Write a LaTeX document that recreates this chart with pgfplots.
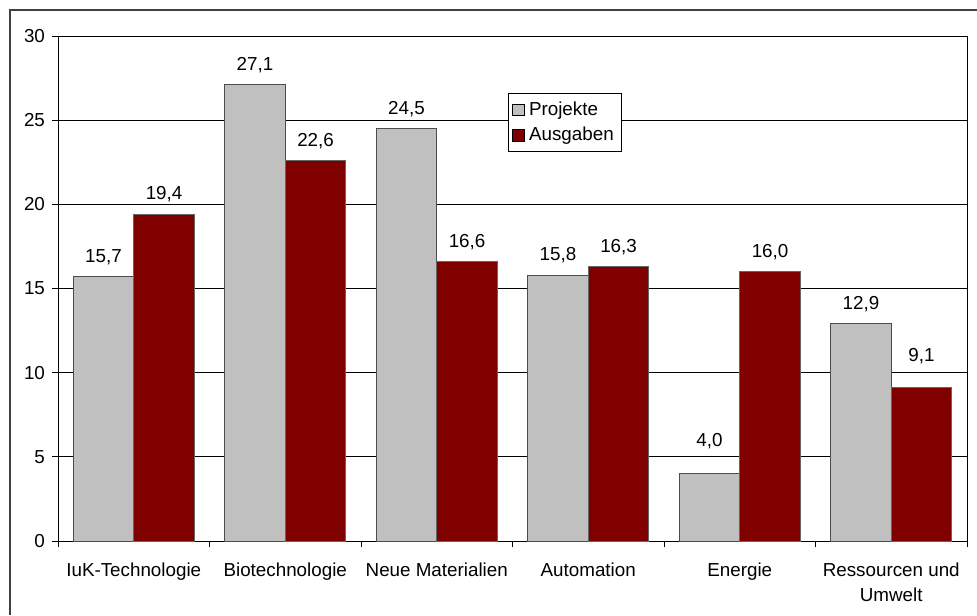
\documentclass[border=0pt]{standalone}
\usepackage{fontspec}
\setmainfont{Liberation Sans}
\usepackage{pgfplots}
\usepackage{pgfplotstable}
\pgfplotsset{compat=1.18}
\definecolor{proj}{RGB}{192,192,192}
\definecolor{ausg}{RGB}{128,0,0}
\pgfplotstableread{
x y off
0 15.7 0
1 27.1 0
2 24.5 0
3 15.8 0
4 4.0 6.5
5 12.9 0
}\projekte
\pgfplotstableread{
x y off
0 19.4 0
1 22.6 0
2 16.6 0
3 16.3 0
4 16.0 0
5 9.1 6
}\ausgaben
\begin{document}
\begin{tikzpicture}
\useasboundingbox (0,0) rectangle (488.5pt,-307.5pt);
\draw[black!75, line width=0.6pt] (5pt,-307.5pt) -- (5pt,-5pt) -- (488.5pt,-5pt);
\begin{axis}[
  at={(29pt,-270.5pt)}, anchor=south west,
  scale only axis, width=454.5pt, height=252.5pt,
  xmin=-0.5, xmax=5.5, ymin=0, ymax=30,
  ybar, bar width=0.4,
  xtick={0,...,5},
  xticklabels={IuK-Technologie,Biotechnologie,Neue Materialien,Automation,Energie,{Ressourcen und\\Umwelt}},
  xticklabel style={align=center, font=\fontsize{9.4}{12.5}\selectfont, yshift=-4.5pt},
  minor xtick={-0.5,0.5,...,5.5},
  major x tick style={draw=none},
  xtick pos=bottom, ytick pos=left,
  ytick={0,5,...,30},
  yticklabel style={font=\fontsize{9.4}{11}\selectfont},
  /pgf/number format/assume math mode=true,
  tick align=outside,
  major tick length=3pt, minor tick length=3pt,
  tick style={black, line width=0.5pt},
  ymajorgrids,
  grid style={black, line width=0.5pt},
  axis line style={black, line width=0.5pt},
  visualization depends on={\thisrow{off} \as \myoff},
  nodes near coords={\pgfmathprintnumber[fixed,fixed zerofill,precision=1,use comma,assume math mode=true]{\pgfplotspointmeta}},
  every node near coord/.append style={font=\fontsize{9.4}{11}\selectfont, black, yshift=2.5pt+\myoff pt},
  legend style={at={(rel axis cs:0.495,0.887)}, anchor=north west, draw=black, line width=0.5pt,
    font=\fontsize{9.4}{11}\selectfont, inner xsep=2pt, inner ysep=2pt, row sep=0.5pt,
    legend cell align=left},
  legend image code/.code={\draw[#1, draw=black, line width=0.5pt] (0pt,-2.9pt) rectangle (5.8pt,2.9pt);},
]
\addplot[fill=proj, draw=black!70, line width=0.5pt, bar shift=-0.2] table[x=x, y=y] {\projekte};
\addplot[fill=ausg, draw=black!60, line width=0.5pt, bar shift=0.2] table[x=x, y=y] {\ausgaben};
\legend{Projekte,Ausgaben}
\end{axis}
\end{tikzpicture}
\end{document}
